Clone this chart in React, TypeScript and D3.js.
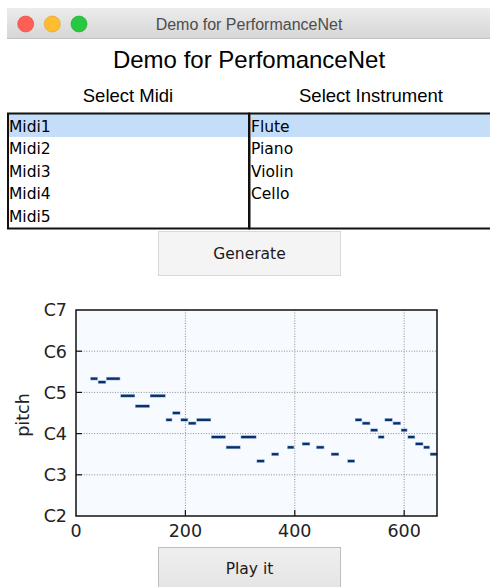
import { useEffect } from "react";
import * as d3 from "d3";

const midiNames = ["Midi1", "Midi2", "Midi3", "Midi4", "Midi5"];
const instruments = ["Flute", "Piano", "Violin", "Cello"];

// piano roll notes (time steps, midi pitch)
const noteStart = [26, 40, 55, 81, 108, 135, 164, 176, 191, 205, 220, 247, 274, 301, 330, 357, 386, 413, 439, 466, 496, 510, 523, 538, 552, 564, 579, 594, 606, 620, 635, 647];
const noteEnd = [40, 55, 81, 108, 135, 164, 176, 191, 205, 220, 247, 274, 301, 330, 345, 371, 399, 428, 454, 481, 510, 523, 538, 552, 564, 579, 594, 606, 620, 635, 647, 662];
const notePitch = [76, 75, 76, 71, 68, 71, 64, 66, 64, 63, 64, 59, 56, 59, 52, 54, 56, 57, 56, 54, 52, 64, 63, 61, 59, 64, 63, 61, 59, 57, 56, 54];

const xTicks = [0, 200, 400, 600];
const pitchTicks = [36, 48, 60, 72, 84, 96];
const pitchLabels = ["C2", "C3", "C4", "C5", "C6", "C7"];

const W = 490;
const H = 587;
const plot = { left: 76, right: 437, top: 310, bottom: 516 };

const mplFont = "'DejaVu Sans', sans-serif";
const uiFont = "'Liberation Sans', Arial, sans-serif";
const listFont = "'DejaVu Sans', sans-serif";

export default function App() {
  useEffect(() => {
    document.body.style.margin = "0";
  }, []);

  const x = d3.scaleLinear().domain([0, 660]).range([plot.left, plot.right]);
  const y = d3.scaleLinear().domain([36, 96]).range([plot.bottom, plot.top]);
  const semi = y(0) - y(1);

  const notes = noteStart.map((s, i) => ({ s, e: noteEnd[i], p: notePitch[i] }));

  return (
    <svg width={W} height={H} style={{ display: "block" }}>
      <defs>
        <linearGradient id="titlebar" x1="0" y1="0" x2="0" y2="1">
          <stop offset="0" stopColor="#ececec" />
          <stop offset="1" stopColor="#d6d6d6" />
        </linearGradient>
        <linearGradient id="playbtn" x1="0" y1="0" x2="0" y2="1">
          <stop offset="0" stopColor="#efefef" />
          <stop offset="1" stopColor="#e2e2e2" />
        </linearGradient>
        <clipPath id="plotclip">
          <rect x={plot.left} y={plot.top} width={plot.right - plot.left} height={plot.bottom - plot.top} />
        </clipPath>
      </defs>
      <rect width={W} height={H} fill="#ffffff" />

      {/* title bar */}
      <rect x={7} y={8} width={W - 7} height={30} fill="url(#titlebar)" />
      <line x1={7} x2={W} y1={38.5} y2={38.5} stroke="#c4c4c4" />
      <circle cx={25.7} cy={24} r={8} fill="#fd5f57" stroke="#e2463f" strokeWidth={0.6} />
      <circle cx={52.3} cy={24} r={8} fill="#febc2e" stroke="#dea123" strokeWidth={0.6} />
      <circle cx={79} cy={24} r={8} fill="#28c840" stroke="#1aab29" strokeWidth={0.6} />
      <text x={249} y={29.5} textAnchor="middle" fontFamily={uiFont} fontSize={16} fill="#4d4d4d">
        Demo for PerformanceNet
      </text>

      {/* heading */}
      <text x={249} y={68} textAnchor="middle" fontFamily={uiFont} fontSize={24} fill="#000">
        Demo for PerfomanceNet
      </text>
      <text x={128} y={102} textAnchor="middle" fontFamily={uiFont} fontSize={18.5} fill="#000">
        Select Midi
      </text>
      <text x={371} y={102} textAnchor="middle" fontFamily={uiFont} fontSize={18.5} fill="#000">
        Select Instrument
      </text>

      {/* list boxes */}
      <rect x={9} y={114} width={239} height={23} fill="#c4defa" />
      <rect x={251} y={114} width={W - 251} height={23} fill="#c4defa" />
      {midiNames.map((m, i) => (
        <text key={m} x={9} y={131.5 + i * 22.6} fontFamily={listFont} fontSize={15.5} fill="#000">
          {m}
        </text>
      ))}
      {instruments.map((m, i) => (
        <text key={m} x={251} y={131.5 + i * 22.6} fontFamily={listFont} fontSize={15.5} fill="#000">
          {m}
        </text>
      ))}
      <rect x={8} y={113.5} width={241} height={115} fill="none" stroke="#111" strokeWidth={2} />
      <rect x={249.5} y={113.5} width={W} height={115} fill="none" stroke="#111" strokeWidth={2} />

      {/* Generate button */}
      <rect x={158.5} y={231.5} width={182} height={44} fill="#f4f4f4" stroke="#d8d8d8" />
      <text x={249.5} y={259} textAnchor="middle" fontFamily={listFont} fontSize={15.5} fill="#1a1a1a">
        Generate
      </text>

      {/* piano roll */}
      <rect x={plot.left} y={plot.top} width={plot.right - plot.left} height={plot.bottom - plot.top} fill="#f7fbff" />
      <g stroke="#8c8c8c" strokeWidth={1} strokeDasharray="1 1.6">
        {pitchTicks.slice(1, -1).map((p) => (
          <line key={p} x1={plot.left} x2={plot.right} y1={y(p)} y2={y(p)} />
        ))}
        {xTicks.slice(1).map((t) => (
          <line key={t} x1={x(t)} x2={x(t)} y1={plot.top} y2={plot.bottom} />
        ))}
      </g>
      <g clipPath="url(#plotclip)">
        {notes.map((n, i) => (
          <g key={i}>
            <rect x={x(n.s)} y={y(n.p + 0.5)} width={x(n.e) - x(n.s)} height={semi} fill="#9db5d2" />
            <rect
              x={x(n.s) + 0.6}
              y={y(n.p + 0.5) + 0.6}
              width={x(n.e) - x(n.s) - 1.2}
              height={semi - 1.2}
              fill="#08306b"
            />
          </g>
        ))}
      </g>
      {/* inward ticks */}
      <g stroke="#111" strokeWidth={1.2}>
        {pitchTicks.slice(1, -1).map((p) => (
          <line key={p} x1={plot.left} x2={plot.left + 6} y1={y(p)} y2={y(p)} />
        ))}
        {xTicks.slice(1).map((t) => (
          <line key={t} x1={x(t)} x2={x(t)} y1={plot.bottom} y2={plot.bottom - 6} />
        ))}
      </g>
      <rect
        x={plot.left}
        y={plot.top}
        width={plot.right - plot.left}
        height={plot.bottom - plot.top}
        fill="none"
        stroke="#111"
        strokeWidth={1.5}
      />
      {pitchTicks.map((p, i) => (
        <text key={p} x={plot.left - 9} y={y(p) + 6.3} textAnchor="end" fontFamily={mplFont} fontSize={17.5} fill="#222">
          {pitchLabels[i]}
        </text>
      ))}
      {xTicks.map((t) => (
        <text key={t} x={x(t)} y={537} textAnchor="middle" fontFamily={mplFont} fontSize={17.5} fill="#222">
          {t}
        </text>
      ))}
      <text
        transform="translate(29,415) rotate(-90)"
        textAnchor="middle"
        fontFamily={mplFont}
        fontSize={17.5}
        fill="#222"
      >
        pitch
      </text>

      {/* Play it button */}
      <rect x={158.5} y={547.5} width={182} height={50} fill="url(#playbtn)" stroke="#bdbdbd" />
      <text x={249.5} y={573.5} textAnchor="middle" fontFamily={listFont} fontSize={15.5} fill="#1a1a1a">
        Play it
      </text>
    </svg>
  );
}
